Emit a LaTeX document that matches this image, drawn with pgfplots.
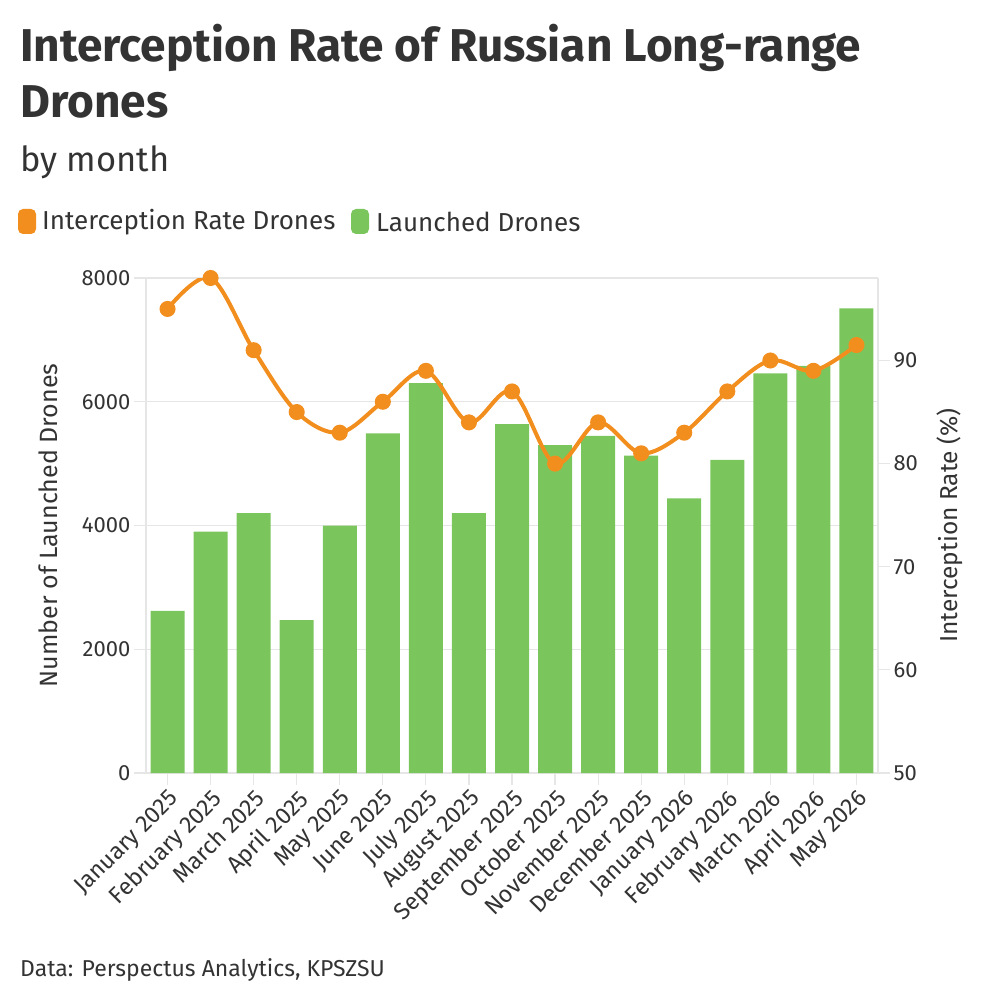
\documentclass[border=0pt]{standalone}
\usepackage{fontspec}
\setmainfont{Fira Sans}
\usepackage{pgfplots}
\pgfplotsset{compat=1.18}
\definecolor{barg}{HTML}{7BC65C}
\definecolor{lineo}{HTML}{F28E1E}
\definecolor{txt}{HTML}{333333}
\definecolor{gridc}{HTML}{E6E6E6}
\begin{document}
\begin{tikzpicture}[x=1pt,y=1pt]
\path[use as bounding box] (0,0) rectangle (1000,-1000);
\node[anchor=base west, inner sep=0, text=txt, font=\fontsize{46}{54}\selectfont\bfseries] at (20,-62) {Interception Rate of Russian Long-range};
\node[anchor=base west, inner sep=0, text=txt, font=\fontsize{46}{54}\selectfont\bfseries] at (20,-118) {Drones};
\node[anchor=base west, inner sep=0, text=txt, font=\fontsize{34.5}{40}\selectfont] at (20,-172) {by month};
\fill[lineo, rounded corners=5] (18,-209) rectangle (36,-234);
\node[anchor=west, inner sep=0, text=txt, font=\fontsize{26}{30}\selectfont] at (42,-222) {Interception Rate Drones};
\fill[barg, rounded corners=5] (351,-209) rectangle (369,-234);
\node[anchor=west, inner sep=0, text=txt, font=\fontsize{26}{30}\selectfont] at (376,-222) {Launched Drones};
\node[anchor=base west, inner sep=0, text=txt, font=\fontsize{23}{27}\selectfont] at (20,-976) {Data: Perspectus Analytics, KPSZSU};

\begin{axis}[
  at={(146pt,-773pt)}, anchor=south west,
  scale only axis, width=732pt, height=495pt,
  xmin=-0.5, xmax=16.5, ymin=0, ymax=8000,
  axis lines*=left,
  axis line style={gridc, line width=1.2pt},
  ymajorgrids, grid style={gridc, line width=1.2pt},
  ytick={0,2000,4000,6000,8000},
  xtick={0,...,16},
  xticklabels={January 2025,February 2025,March 2025,April 2025,May 2025,June 2025,July 2025,August 2025,September 2025,October 2025,November 2025,December 2025,January 2026,February 2026,March 2026,April 2026,May 2026},
  tick align=outside, major tick length=12pt,
  tick style={gridc, line width=1.2pt},
  scaled y ticks=false,
  /pgf/number format/set thousands separator={},
  /pgf/number format/assume math mode=true,
  tick label style={text=txt, font=\fontsize{22}{26}\selectfont},
  xticklabel style={rotate=45, anchor=north east, inner sep=2pt, font=\fontsize{23.5}{27}\selectfont},
  ylabel={Number of Launched Drones},
  ylabel style={at={(axis description cs:-0.134,0.5)}, anchor=center, text=txt, font=\fontsize{25}{29}\selectfont},
]
\addplot[ybar, bar width=34pt, bar shift=0pt, fill=barg, draw=none] coordinates {
(0,2620) (1,3900) (2,4200) (3,2470) (4,4000) (5,5490) (6,6300) (7,4200) (8,5640) (9,5300) (10,5450) (11,5130) (12,4440) (13,5060) (14,6460) (15,6580) (16,7510)
};
\end{axis}

\begin{axis}[
  at={(146pt,-773pt)}, anchor=south west,
  scale only axis, width=732pt, height=495pt,
  xmin=-0.5, xmax=16.5, ymin=50, ymax=98,
  axis x line=none,
  axis y line*=right,
  axis line style={gridc, line width=1.2pt},
  ytick={50,60,70,80,90},
  tick align=outside, major tick length=12pt,
  tick style={gridc, line width=1.2pt},
  /pgf/number format/assume math mode=true,
  tick label style={text=txt, font=\fontsize{22}{26}\selectfont},
  ylabel={Interception Rate (\%)},
  ylabel style={at={(axis description cs:1.098,0.5)}, anchor=center, rotate=0, text=txt, font=\fontsize{24.5}{29}\selectfont},
]
\addplot[lineo, line width=4pt, smooth, tension=0.55, mark=*, mark size=6pt, mark options={fill=lineo, draw=none}] coordinates {
(0,95) (1,98) (2,91) (3,85) (4,83) (5,86) (6,89) (7,84) (8,87) (9,80) (10,84) (11,81) (12,83) (13,87) (14,90) (15,89) (16,91.5)
};
\end{axis}
\end{tikzpicture}
\end{document}
